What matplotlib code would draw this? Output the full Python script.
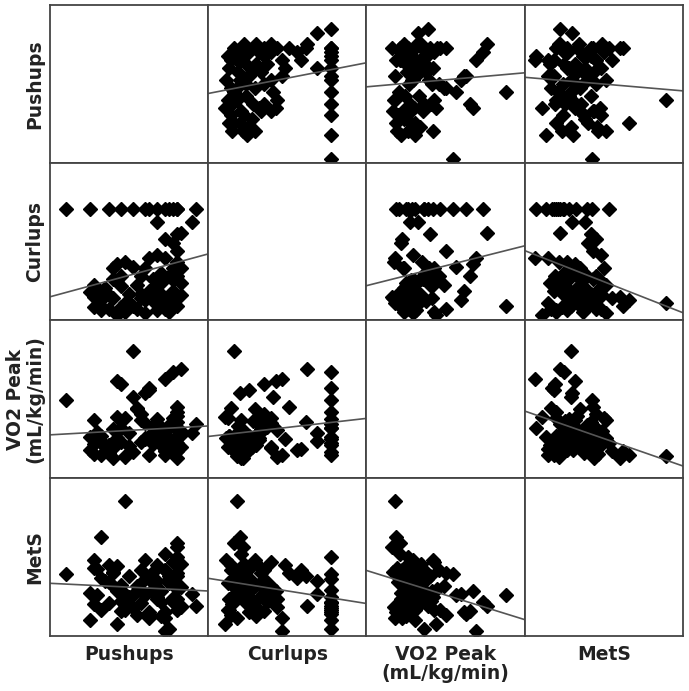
import matplotlib.pyplot as plt
import numpy as np

# one value per subject
pushups = np.array([4, 10, 15, 18, 21, 24, 25, 27, 29, 30, 31, 32, 32, 37,
                    27, 36, 29, 32, 33, 31, 32, 25, 27, 29, 32, 33, 31,
                    17, 19, 21, 16, 18, 26, 28, 30, 31, 32,
                    11, 10, 12, 11, 13, 11, 13, 15, 17, 18,
                    20, 22, 23, 21, 24, 16, 19, 17, 24, 28,
                    29, 32, 33, 29, 32, 26, 13, 19, 22, 27,
                    30, 12, 15, 25, 23,
                    26, 30, 20, 14, 28, 23, 31, 18, 33, 16, 24, 29])
curlups = np.array([75, 75, 75, 75, 75, 75, 75, 75, 75, 75, 75, 75, 75, 75,
                    66, 66, 55, 58, 59, 52, 47, 42, 44, 42, 39, 35, 35,
                    38, 39, 36, 35, 30, 28, 25, 30, 27, 30,
                    24, 19, 20, 16, 14, 9, 7, 17, 27, 23,
                    18, 24, 18, 10, 14, 15, 12, 4, 5, 18,
                    15, 16, 17, 12, 10, 13, 10, 6, 8, 7,
                    6, 17, 8, 20, 30,
                    22, 14, 12, 22, 32, 15, 20, 9, 25, 28, 35, 8])
vo2_peak = np.array([42.5, 30.2, 27.4, 33.1, 25.3, 29.4, 46.4, 36.2, 24.4, 33.3, 52.0, 28.3, 38.4, 34.5,
                     28.8, 31.4, 26.3, 35.1, 53.0, 25.8, 40.2, 24.1, 29.7, 49.5, 32.6, 27.0, 36.5,
                     48.8, 23.7, 43.4, 26.6, 47.8, 31.9, 27.5, 34.2, 29.1, 37.3,
                     36.0, 26.0, 30.7, 24.6, 24.3, 28.0, 30.4, 25.0, 30.0, 35.4,
                     27.2, 39.6, 28.5, 59.0, 44.9, 23.4, 23.9, 37.0, 29.8, 31.1,
                     25.5, 23.1, 32.3, 26.2, 25.5, 33.8, 29.0, 36.5, 40.0, 30.6,
                     26.8, 32.0, 27.7, 46.0, 38.0,
                     27.8, 29.5, 31.6, 26.9, 33.5, 35.8, 25.9, 28.7, 30.9, 32.8, 34.9, 27.1])
mets = np.array([0.7, -2.8, -1.5, -0.5, -1.9, 0.3, -2.3, -1.0, -2.2, -3.5, -1.4, 2.0, -2.0, -1.7,
                 0.2, -0.8, 1.0, 0.6, -1.7, 0.4, 0.8, -2.6, 1.4, -3.6, -1.2, -0.3, 1.6,
                 -0.6, -1.8, -0.9, -0.2, -2.1, 0.0, -2.5, 0.3, -1.1, -0.4,
                 1.8, -0.7, 1.1, 1.2, 3.5, -1.6, -2.0, 0.1, 1.3, -1.3,
                 0.6, -0.2, -1.5, -0.9, -0.8, 0.9, 6.3, -3.1, 1.8, -0.6,
                 2.2, 2.8, 1.5, -2.6, 3.1, 0.9, 0.4, -2.0, -2.4, -1.2,
                 0.0, -0.9, 1.4, -2.2, 1.0,
                 -0.4, 0.6, -1.0, 0.2, -1.4, -0.6, -1.2, -0.1, -1.8, 0.8, -0.9, 1.0])

labels = ['Pushups', 'Curlups', 'VO2 Peak\n(mL/kg/min)', 'MetS']
data = [pushups, curlups, vo2_peak, mets]
xlims = [(0, 40), (-7.2, 98.8), (15, 65), (-4.4, 7.6)]
ylims = [(3, 43), (0, 106), (16.5, 69), (-4, 8)]

fig, axes = plt.subplots(4, 4, figsize=(6.89, 6.91), dpi=100)
fig.subplots_adjust(left=0.0726, right=0.991, top=0.9928, bottom=0.0796,
                    wspace=0, hspace=0)

for i in range(4):
    for j in range(4):
        ax = axes[i, j]
        ax.set_xticks([])
        ax.set_yticks([])
        for s in ax.spines.values():
            s.set_color('#444444')
            s.set_linewidth(1.3)
        ax.set_xlim(xlims[j])
        ax.set_ylim(ylims[i])
        if i == j:
            continue
        x, y = data[j], data[i]
        ax.plot(x, y, 'D', ms=7, color='black', mec='black')
        b, a = np.polyfit(x, y, 1)
        xs = np.array(xlims[j])
        ax.plot(xs, a + b * xs, color='#555555', lw=1.2)

# variable names on the left and bottom
for i in range(4):
    pos = axes[i, 0].get_position()
    fig.text(0.064, (pos.y0 + pos.y1) / 2, labels[i], rotation=90,
             ha='right', va='center', ma='center', linespacing=1.0,
             fontsize=13.5, fontweight='bold', color='#222222')
for j in range(4):
    pos = axes[3, j].get_position()
    fig.text((pos.x0 + pos.x1) / 2, 0.066, labels[j],
             ha='center', va='top', ma='center', linespacing=1.0,
             fontsize=13.5, fontweight='bold', color='#222222')

fig.savefig('out.png', dpi=100)
